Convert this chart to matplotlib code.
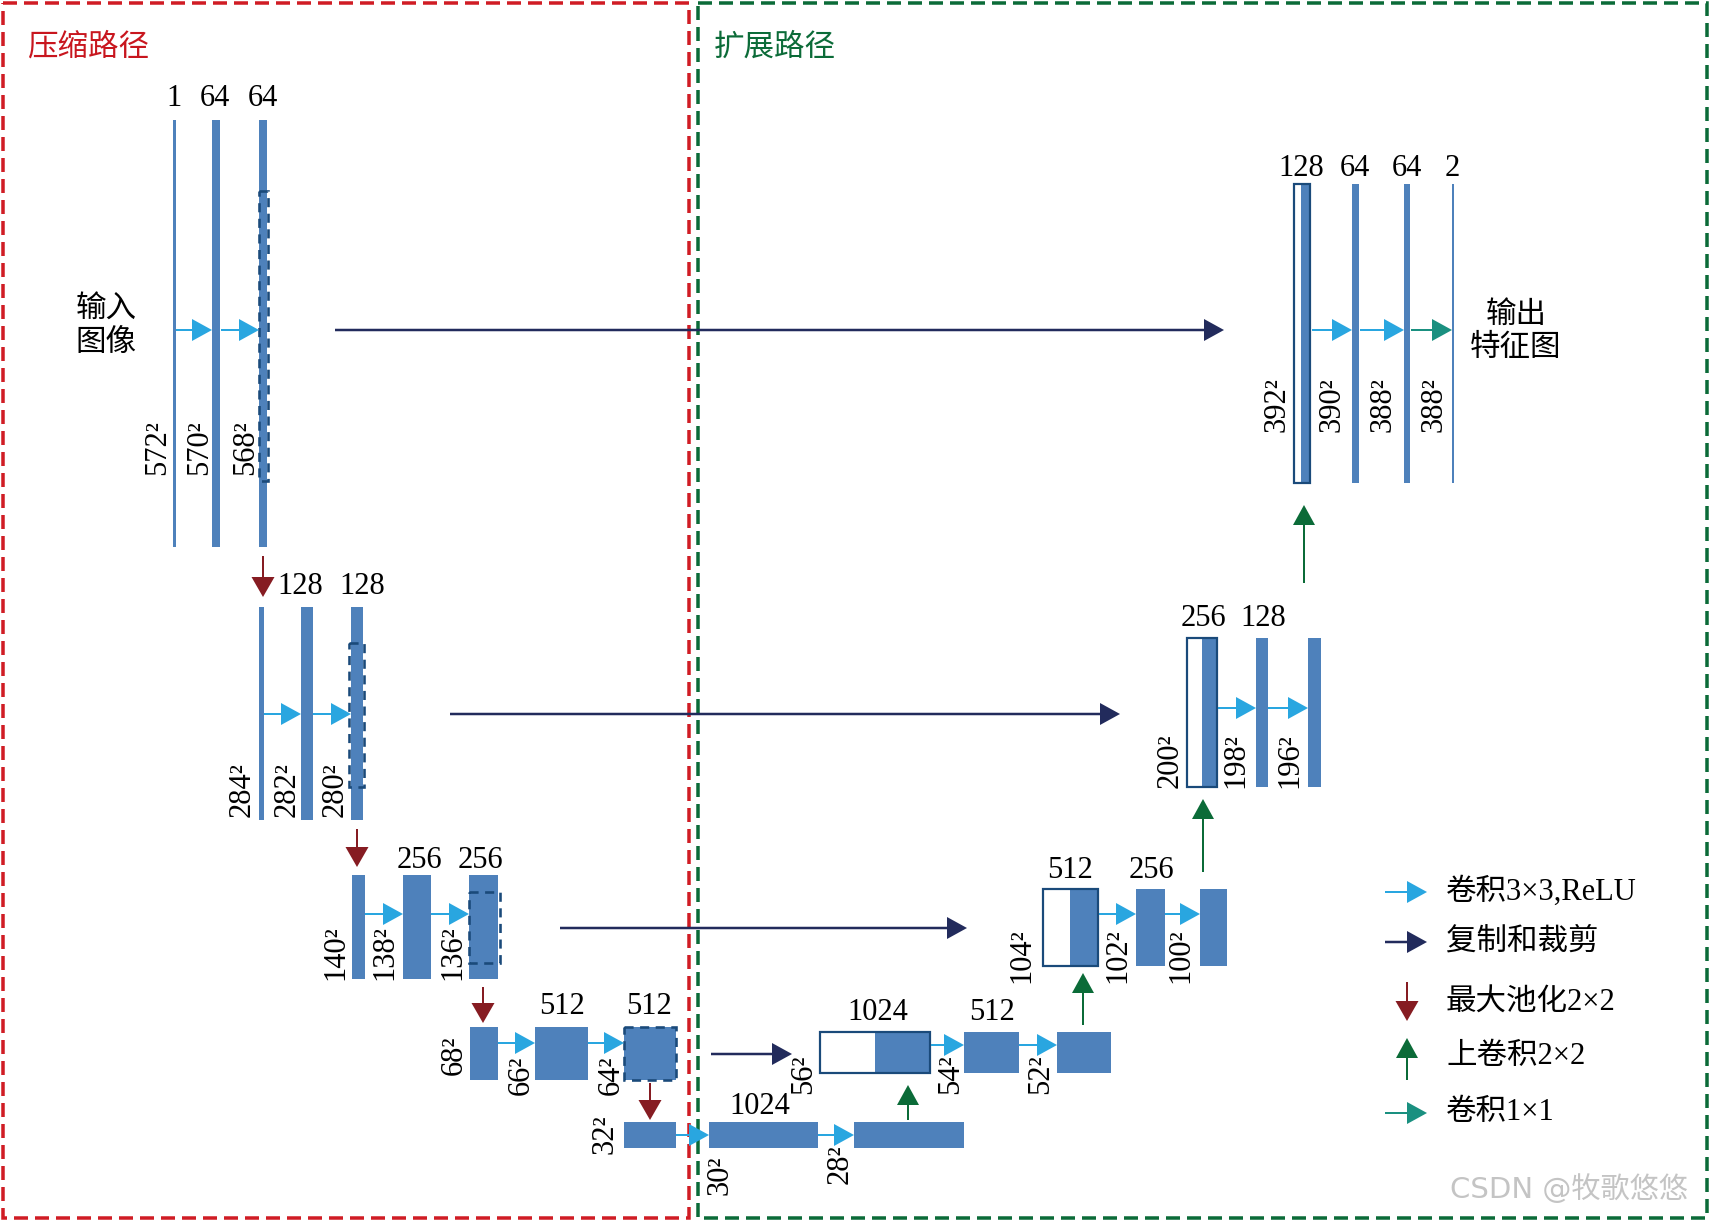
import matplotlib
matplotlib.use('Agg')
import numpy as np
import matplotlib.pyplot as plt
from matplotlib.patches import Rectangle, Polygon

# ---------------- data (text content of the diagram) ----------------
title_left = '压缩路径'
title_right = '扩展路径'
input_label = '输入\n图像'
output_label = '输出\n特征图'

enc1_channels = ['1', '64', '64']
enc1_sizes = ['572', '570', '568']
enc2_channels = ['128', '128']
enc2_sizes = ['284', '282', '280']
enc3_channels = ['256', '256']
enc3_sizes = ['140', '138', '136']
enc4_channels = ['512', '512']
enc4_sizes = ['68', '66', '64']
bottom_channels = ['1024']
bottom_sizes = ['32', '30', '28']
dec4_channels = ['1024', '512']
dec4_sizes = ['56', '54', '52']
dec3_channels = ['512', '256']
dec3_sizes = ['104', '102', '100']
dec2_channels = ['256', '128']
dec2_sizes = ['200', '198', '196']
dec1_channels = ['128', '64', '64', '2']
dec1_sizes = ['392', '390', '388', '388']

legend_labels = ['卷积3×3,ReLU', '复制和裁剪', '最大池化2×2', '上卷积2×2', '卷积1×1']
watermark = 'CSDN @牧歌悠悠'

# ---------------- styles ----------------
BLUE = '#4e81bb'
EDGE = '#1a4a7a'
CONV = '#29a6e0'
COPY = '#222b5c'
POOL = '#861c22'
UP = '#0b6b38'
ONE = '#1a9080'
RED = '#d01c24'
GREEN = '#0b6b38'
SERIF = ['Liberation Serif', 'Noto Sans CJK SC']
PX = 72.0 / 100.0  # points per pixel

fig = plt.figure(figsize=(17.1, 12.2), dpi=100)
ax = fig.add_axes([0, 0, 1, 1])
ax.set_xlim(0, 1710)
ax.set_ylim(1220, 0)
ax.axis('off')


def bar(x0, x1, y0, y1):
    ax.add_patch(Rectangle((x0, y0), x1 - x0, y1 - y0, fc=BLUE, ec='none'))


def dashed(x0, x1, y0, y1):
    ax.add_patch(Rectangle((x0, y0), x1 - x0, y1 - y0, fc='none', ec=EDGE,
                           lw=2.6 * PX, ls=(0, (3.5, 2.5))))


def concat(x0, xm, x1, y0, y1):
    ax.add_patch(Rectangle((xm, y0), x1 - xm, y1 - y0, fc=BLUE, ec='none'))
    ax.add_patch(Rectangle((x0, y0), x1 - x0, y1 - y0, fc='none', ec=EDGE, lw=2.2 * PX))


def arrow(x0, y0, x1, y1, color, lw=2.0, hl=20, hw=22):
    dx, dy = x1 - x0, y1 - y0
    n = np.hypot(dx, dy)
    ux, uy = dx / n, dy / n
    bx, by = x1 - ux * hl, y1 - uy * hl
    ax.plot([x0, bx + ux * 2], [y0, by + uy * 2], color=color, lw=lw * PX,
            solid_capstyle='butt')
    px, py = -uy, ux
    ax.add_patch(Polygon([[x1, y1], [bx + px * hw / 2, by + py * hw / 2],
                          [bx - px * hw / 2, by - py * hw / 2]], closed=True,
                         fc=color, ec='none'))


def chan(x, y, s):
    ax.text(x, y, s, ha='center', va='center', fontsize=22, family=SERIF)


def size(x, ybot, s):
    ax.text(x, ybot, s + '²', ha='center', va='bottom', rotation=90,
            fontsize=22, family=SERIF)


# ---------------- frames ----------------
ax.add_patch(Rectangle((2.5, 2.5), 686.5, 1215, fc='none', ec=RED, lw=3.5 * PX, ls=(0, (4, 2))))
ax.add_patch(Rectangle((698, 2.5), 1009, 1215, fc='none', ec=GREEN, lw=3.5 * PX, ls=(0, (4, 2))))
ax.text(27, 48, title_left, color='#c8161e', fontsize=22, family=SERIF, va='center')
ax.text(714, 48, title_right, color=GREEN, fontsize=22, family=SERIF, va='center')

# ---------------- encoder level 1 ----------------
y0, y1 = 120, 547
bar(173, 175.5, y0, y1)
bar(212, 220, y0, y1)
bar(259, 267, y0, y1)
dashed(259, 268, 191, 481)
for x, s in zip([174, 215, 263], enc1_channels):
    chan(x, 99, s)
for x, s in zip([158, 200, 246], enc1_sizes):
    size(x, 475, s)
arrow(176, 330, 212, 330, CONV)
arrow(221, 330, 259, 330, CONV)
ax.text(106, 327, input_label, ha='center', va='center', fontsize=22,
        family=SERIF, linespacing=1.2)
arrow(335, 330, 1224, 330, COPY, lw=2.5)

# ---------------- encoder level 2 ----------------
y0, y1 = 607, 820
arrow(263, 556, 263, 597, POOL, hw=23)
bar(259, 264, y0, y1)
bar(301, 313, y0, y1)
bar(351, 363, y0, y1)
dashed(349, 364, 643, 787)
for x, s in zip([300, 362], enc2_channels):
    chan(x, 586, s)
for x, s in zip([242, 287, 335], enc2_sizes):
    size(x, 817, s)
arrow(264, 714, 301, 714, CONV)
arrow(313, 714, 351, 714, CONV)
arrow(450, 714, 1120, 714, COPY, lw=2.5)

# ---------------- encoder level 3 ----------------
y0, y1 = 875, 979
arrow(357, 829, 357, 867, POOL, hw=23)
bar(352, 365, y0, y1)
bar(403, 431, y0, y1)
bar(469, 498, y0, y1)
dashed(469, 500, 892, 963)
for x, s in zip([419, 480], enc3_channels):
    chan(x, 860, s)
for x, s in zip([336, 385, 453], enc3_sizes):
    size(x, 980, s)
arrow(365, 914, 403, 914, CONV)
arrow(431, 914, 469, 914, CONV)
arrow(560, 928, 967, 928, COPY, lw=2.5)

# ---------------- encoder level 4 ----------------
y0, y1 = 1027, 1080
arrow(483, 987, 483, 1023, POOL, hw=23)
bar(470, 498, y0, y1)
bar(535, 588, y0, y1)
bar(624, 676, y0, y1)
dashed(624, 676, y0, y1)
for x, s in zip([562, 649], enc4_channels):
    chan(x, 1006, s)
for (x, yb), s in zip([(454, 1075), (521, 1095), (611, 1095)], enc4_sizes):
    size(x, yb, s)
arrow(498, 1043, 535, 1043, CONV)
arrow(588, 1043, 624, 1043, CONV)
arrow(711, 1054, 792, 1054, COPY, lw=2.5)

# ---------------- bottleneck ----------------
y0, y1 = 1122, 1148
arrow(650, 1083, 650, 1120, POOL, hw=23)
bar(624, 676, y0, y1)
bar(709, 818, y0, y1)
bar(854, 964, y0, y1)
chan(760, 1107, bottom_channels[0])
for (x, yb), s in zip([(605, 1154), (720, 1195), (840, 1184)], bottom_sizes):
    size(x, yb, s)
arrow(676, 1135, 709, 1135, CONV)
arrow(818, 1135, 854, 1135, CONV)
arrow(908, 1120, 908, 1085, UP, hw=22)

# ---------------- decoder level 4 ----------------
y0, y1 = 1032, 1073
concat(820, 875, 930, y0, y1)
bar(964, 1019, y0, y1)
bar(1057, 1111, y0, y1)
for x, s in zip([878, 992], dec4_channels):
    chan(x, 1013, s)
for x, s in zip([804, 951, 1041], dec4_sizes):
    size(x, 1094, s)
arrow(931, 1045, 964, 1045, CONV)
arrow(1019, 1045, 1057, 1045, CONV)
arrow(1083, 1025, 1083, 973, UP, hw=22)

# ---------------- decoder level 3 ----------------
y0, y1 = 889, 966
concat(1043, 1070, 1098, y0, y1)
bar(1136, 1165, y0, y1)
bar(1200, 1227, y0, y1)
for x, s in zip([1070, 1151], dec3_channels):
    chan(x, 871, s)
for x, s in zip([1022, 1118, 1181], dec3_sizes):
    size(x, 983, s)
arrow(1099, 914, 1136, 914, CONV)
arrow(1165, 914, 1200, 914, CONV)
arrow(1203, 872, 1203, 799, UP, hw=22)

# ---------------- decoder level 2 ----------------
y0, y1 = 638, 787
concat(1187, 1202, 1217, y0, y1)
bar(1256, 1268, y0, y1)
bar(1308, 1321, y0, y1)
for x, s in zip([1203, 1263], dec2_channels):
    chan(x, 618, s)
for x, s in zip([1170, 1236, 1290], dec2_sizes):
    size(x, 788, s)
arrow(1218, 708, 1256, 708, CONV)
arrow(1268, 708, 1308, 708, CONV)
arrow(1304, 583, 1304, 505, UP, hw=22)

# ---------------- decoder level 1 ----------------
y0, y1 = 184, 483
concat(1294, 1301, 1310, y0, y1)
bar(1352, 1359, y0, y1)
bar(1404, 1410, y0, y1)
bar(1452, 1454, y0, y1)
for x, s in zip([1301, 1355, 1407, 1452], dec1_channels):
    chan(x, 169, s)
for x, s in zip([1277, 1332, 1383, 1434], dec1_sizes):
    size(x, 432, s)
arrow(1312, 330, 1352, 330, CONV)
arrow(1360, 330, 1404, 330, CONV)
arrow(1411, 330, 1452, 330, ONE)
ax.text(1516, 332, output_label, ha='center', va='center', fontsize=22,
        family=SERIF, linespacing=1.2)

# ---------------- legend ----------------
ly = [892, 942, 1003, 1057, 1113]
arrow(1385, ly[0], 1427, ly[0], CONV)
arrow(1385, ly[1], 1427, ly[1], COPY, lw=2.5)
arrow(1407, 982, 1407, 1021, POOL, hw=23)
arrow(1407, 1080, 1407, 1038, UP, hw=22)
arrow(1385, ly[4], 1427, ly[4], ONE)
for y, s in zip(ly, legend_labels):
    ax.text(1446, y, s, ha='left', va='center', fontsize=22, family=SERIF)

ax.text(1450, 1189, watermark, ha='left', va='center', fontsize=21,
        color='#c4c4c4', family=['DejaVu Sans', 'Noto Sans CJK SC'])

fig.savefig('out.png', dpi=100)
